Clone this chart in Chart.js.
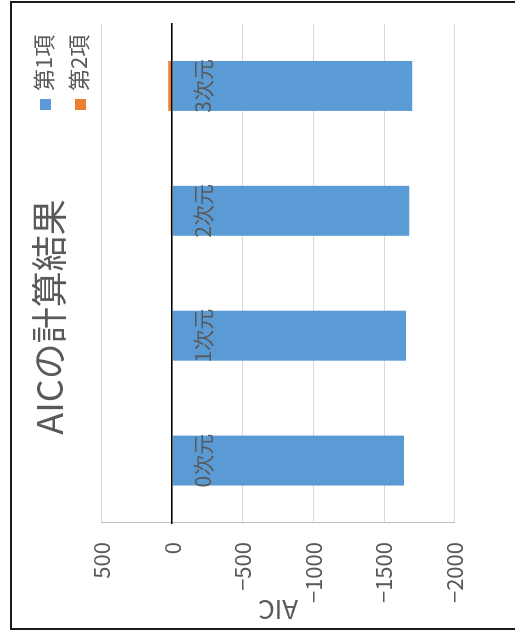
<!DOCTYPE html>
<html>
<head>
<meta charset="utf-8">
<script src="https://cdn.jsdelivr.net/npm/chart.js@4"></script>
<style>
html, body { margin: 0; padding: 0; background: #fff; overflow: hidden; }
#frame { position: absolute; left: 10px; top: 1px; width: 540px; height: 629px; box-sizing: border-box; border: 2px solid #1a1a1a; }
/* chart is laid out landscape, then turned on its side */
#wrap { position: absolute; left: 0; top: 0; width: 634px; height: 515px; transform-origin: 0 0; transform: translateY(634px) rotate(-90deg); }
#legend { position: absolute; left: 524px; top: 25px; font: 22px 'Noto Sans CJK JP', sans-serif; color: #595959; }
#legend div { height: 35px; line-height: 35px; white-space: nowrap; }
#legend span { display: inline-block; width: 11px; height: 11px; margin-right: 8px; vertical-align: middle; position: relative; top: -1px; }
</style>
</head>
<body>
<div id="frame"></div>
<div id="wrap">
  <canvas id="aicChart" width="634" height="515"></canvas>
  <div id="legend"></div>
</div>
<script>
const categories = ["0次元", "1次元", "2次元", "3次元"];
const seriesNames = ["第1項", "第2項"];
const term1 = [-1642, -1656, -1679, -1700];
const term2 = [1, 3, 10, 28];
const valueTicks = [500, 0, -500, -1000, -1500, -2000];
const colors = ["#5b9bd5", "#ed7d31"];

const textGray = "#595959";
const cjk = "'Noto Sans CJK JP', sans-serif";

const chart = new Chart(document.getElementById("aicChart"), {
  type: "bar",
  data: {
    labels: categories,
    datasets: [
      { label: seriesNames[0], data: term1, backgroundColor: colors[0] },
      { label: seriesNames[1], data: term2, backgroundColor: colors[1] }
    ]
  },
  options: {
    responsive: false,
    animation: false,
    layout: { padding: { left: 0, top: 0, right: 0, bottom: 60.4 } },
    datasets: { bar: { categoryPercentage: 1, barPercentage: 0.4 } },
    plugins: {
      legend: { display: false },
      tooltip: { enabled: false },
      title: {
        display: true,
        text: "AICの計算結果",
        color: textGray,
        font: { family: cjk, size: 36, weight: "normal" },
        padding: { top: 28, bottom: 30.4 }
      }
    },
    scales: {
      x: {
        stacked: true,
        position: { y: 0 },
        grid: { display: false, drawTicks: false },
        // zero line and category names sit on top of the bars
        border: { display: true, color: "#000", width: 1.5, z: 1 },
        ticks: { z: 1, color: textGray, font: { family: cjk, size: 21 }, padding: 18, autoSkip: false, maxRotation: 0 }
      },
      y: {
        stacked: true,
        min: -2000,
        max: 500,
        afterBuildTicks: s => { s.ticks = valueTicks.map(v => ({ value: v })); },
        afterFit: s => { s.width = 111; },
        grid: { color: "#d9d9d9", lineWidth: 1, drawTicks: false },
        border: { color: "#bfbfbf", width: 1 },
        ticks: {
          color: textGray,
          padding: 19,
          font: { family: cjk, size: 22 },
          callback: v => String(v).replace("-", "−")
        },
        title: {
          display: true,
          text: "AIC",
          color: textGray,
          font: { family: cjk, size: 26 },
          padding: { top: 9, bottom: 0 }
        }
      },
      // empty strip on the right so the title stays centred on the canvas
      gap: {
        type: "linear",
        position: "right",
        grid: { display: false },
        border: { display: false },
        ticks: { display: false },
        afterFit: s => { s.width = 23.5; }
      }
    }
  }
});

// legend, one row per series
const legend = document.getElementById("legend");
chart.data.datasets.forEach(ds => {
  const row = document.createElement("div");
  const box = document.createElement("span");
  box.style.background = ds.backgroundColor;
  row.appendChild(box);
  row.appendChild(document.createTextNode(ds.label));
  legend.appendChild(row);
});
</script>
</body>
</html>
